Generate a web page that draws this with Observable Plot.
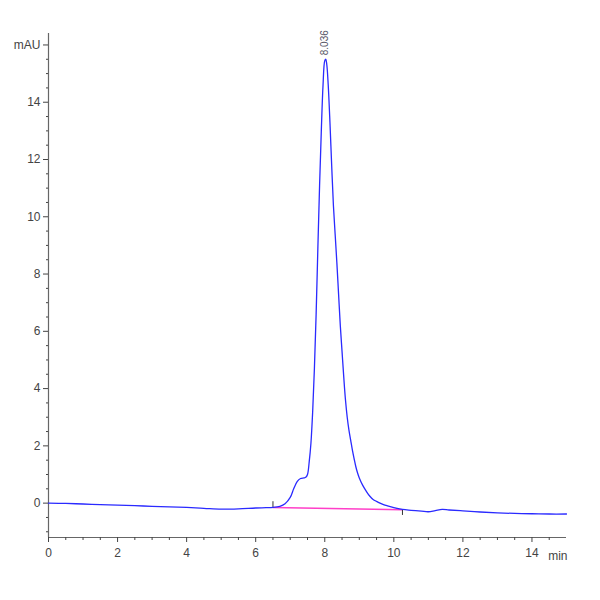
<!DOCTYPE html>
<html>
<head>
<meta charset="utf-8">
<script src="https://cdn.jsdelivr.net/npm/d3@7"></script>
<script src="https://cdn.jsdelivr.net/npm/@observablehq/plot@0.6"></script>
<style>
  html, body { margin: 0; padding: 0; background: #fff; }
  #chart { width: 600px; height: 600px; }
</style>
</head>
<body>
<div id="chart"></div>
<script>
// Chromatogram trace (retention time in min, absorbance in mAU)
const times = [0.0,0.5,1.0,1.5,2.0,2.5,3.0,3.5,4.0,4.5,5.0,5.5,6.0,6.3,6.5,6.7,6.85,7.0,7.1,7.2,7.3,7.4,7.45,7.5,7.55,7.6,7.65,7.7,7.75,7.8,7.85,7.9,7.95,8.0,8.03,8.06,8.1,8.15,8.2,8.25,8.3,8.35,8.4,8.45,8.5,8.55,8.6,8.65,8.7,8.75,8.8,8.85,8.9,8.95,9.0,9.1,9.2,9.3,9.4,9.5,9.6,9.7,9.8,10.0,10.25,10.5,10.8,11.0,11.2,11.4,11.6,12.0,12.5,13.0,13.5,14.0,14.5,15.0];
const signal = [0.00,-0.01,-0.03,-0.05,-0.07,-0.09,-0.11,-0.13,-0.15,-0.18,-0.21,-0.20,-0.17,-0.16,-0.15,-0.11,-0.02,0.20,0.50,0.75,0.86,0.88,0.90,1.0,1.45,2.1,3.2,4.7,6.6,8.9,11.1,13.0,14.6,15.45,15.5,15.3,14.6,13.3,11.8,10.4,9.4,8.4,7.3,6.2,5.3,4.4,3.6,3.0,2.55,2.2,1.85,1.55,1.27,1.05,0.88,0.62,0.42,0.25,0.13,0.06,0.0,-0.05,-0.09,-0.16,-0.22,-0.25,-0.28,-0.30,-0.26,-0.22,-0.24,-0.27,-0.31,-0.34,-0.36,-0.37,-0.38,-0.38];

// Integration baseline (start / end) and marker direction
const baseTimes = [6.5, 10.25];
const baseValues = [-0.15, -0.23];
const markerDir = [1, -1];

// Peak annotation
const peakTimes = [8.03];
const peakValues = [15.5];
const peakLabels = ["8.036"];

// Axes
const xDomain = [0, 15];
const yDomain = [-1.2, 16.4];
const xMajor = [0, 2, 4, 6, 8, 10, 12, 14];
const xMinor = [0.5,1,1.5,2.5,3,3.5,4.5,5,5.5,6.5,7,7.5,8.5,9,9.5,10.5,11,11.5,12.5,13,13.5,14.5];
const yMajor = [0, 2, 4, 6, 8, 10, 12, 14, 16];
const yMajorLabels = ["0", "2", "4", "6", "8", "10", "12", "14", "mAU"];
const yMinor = [-1,-0.5,0.5,1,1.5,2.5,3,3.5,4.5,5,5.5,6.5,7,7.5,8.5,9,9.5,10.5,11,11.5,12.5,13,13.5,14.5,15,15.5];
const xUnit = ["min"];

const trace = times.map((t, i) => ({t, v: signal[i]}));
const base = baseTimes.map((t, i) => ({t, v: baseValues[i], dir: markerDir[i]}));
const peaks = peakTimes.map((t, i) => ({t, v: peakValues[i], label: peakLabels[i]}));

const font = "'Liberation Sans Narrow', 'Liberation Sans', Arial, sans-serif";

const chart = Plot.plot({
  width: 600,
  height: 600,
  marginLeft: 48,
  marginRight: 34,
  marginTop: 33,
  marginBottom: 63,
  style: {fontFamily: font, fontSize: "12px", color: "#444", background: "#fff"},
  x: {domain: xDomain},
  y: {domain: yDomain},
  marks: [
    // axis frame lines
    Plot.ruleX([xDomain[0]], {stroke: "#666", strokeWidth: 1.2}),
    Plot.ruleY([yDomain[0]], {stroke: "#666", strokeWidth: 1.2}),
    // minor ticks
    Plot.axisX({ticks: xMinor, tickSize: 3, tickFormat: () => "", stroke: "#444", label: null}),
    Plot.axisY({ticks: yMinor, tickSize: 2, tickFormat: () => "", stroke: "#444", label: null}),
    // major ticks + labels
    Plot.axisX({ticks: xMajor, tickSize: 5, tickPadding: 6, stroke: "#444", fill: "#444", label: null, tickFormat: d => String(d)}),
    Plot.axisY({ticks: yMajor, tickSize: 5, tickPadding: 3, stroke: "#444", fill: "#444", label: null,
      tickFormat: d => yMajorLabels[yMajor.indexOf(d)]}),
    // unit label on x
    Plot.text(xUnit, {x: () => xDomain[1], y: () => yDomain[0], text: d => d, textAnchor: "end", dy: 19, dx: 1, fill: "#444", fontSize: 12}),
    // integration baseline
    Plot.line(base, {x: "t", y: "v", stroke: "#ff3fc8", strokeWidth: 1.6}),
    Plot.ruleX(base, {x: "t", y1: "v", y2: d => d.v + d.dir * 0.2, stroke: "#333", strokeWidth: 1}),
    // trace
    Plot.line(trace, {x: "t", y: "v", stroke: "#2a2aff", strokeWidth: 1.3, curve: "catmull-rom"}),
    // peak label
    Plot.text(peaks, {x: "t", y: "v", text: "label", rotate: -90, textAnchor: "start", dy: -4, dx: -1, fontSize: 10, fill: "#556"})
  ]
});

document.getElementById("chart").appendChild(chart);
</script>
</body>
</html>
